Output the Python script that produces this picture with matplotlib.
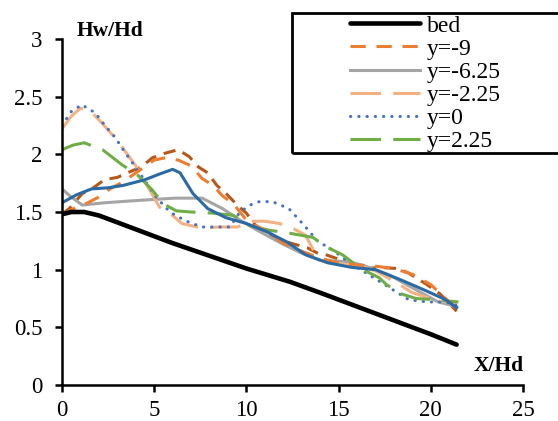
import numpy as np
import matplotlib
matplotlib.use('Agg')
from matplotlib import pyplot as plt
from matplotlib.patches import Rectangle

plt.rcParams['font.family'] = 'Liberation Serif'

# values (X/Hd, Hw/Hd)
bed_x = [0, 0.5, 1.2, 2, 3, 4, 5, 6, 8, 10, 12.36, 14, 16, 18, 20, 21.4]
bed_y = [1.48, 1.50, 1.50, 1.47, 1.41, 1.35, 1.29, 1.23, 1.12, 1.01, 0.895, 0.80, 0.68, 0.56, 0.44, 0.35]

ym9_x = [0, 0.5, 1.4, 2.0, 2.6, 3.3, 4.1, 5.0, 5.6, 6.3, 7.0, 7.6, 8.2, 8.7, 9.3, 10, 11, 12, 13, 14,
         15, 16, 17, 18, 19, 20, 21.4]
ym9_y = [1.47, 1.52, 1.58, 1.63, 1.70, 1.76, 1.85, 1.95, 1.97, 1.95, 1.90, 1.79, 1.73, 1.64, 1.57, 1.43,
         1.34, 1.23, 1.16, 1.10, 1.06, 1.04, 1.03, 1.01, 0.96, 0.87, 0.66]

ym625_x = [0, 0.5, 1.1, 2.3, 4.1, 6.1, 7.6, 8.7, 9.65, 10.5, 11.3, 12.0, 12.9, 14, 15.5, 16.3, 17.8,
           18.8, 19.6, 20.4, 21.4]
ym625_y = [1.70, 1.63, 1.56, 1.58, 1.60, 1.62, 1.62, 1.53, 1.43, 1.35, 1.28, 1.22, 1.15, 1.08, 1.07,
           1.04, 0.95, 0.86, 0.79, 0.72, 0.68]

ym225_x = [0, 0.5, 1.0, 1.5, 2.0, 3.0, 4.0, 5.3, 6.0, 6.5, 7.6, 8.5, 9.5, 10.4, 11.0, 11.8, 12.5, 13.2,
           13.7, 14.1, 15, 16, 17, 18, 19, 20, 21.4]
ym225_y = [2.22, 2.33, 2.40, 2.38, 2.30, 2.12, 1.90, 1.54, 1.47, 1.40, 1.36, 1.37, 1.37, 1.42, 1.42,
           1.40, 1.36, 1.30, 1.15, 1.08, 1.05, 1.04, 0.99, 0.90, 0.80, 0.75, 0.70]

y0_x = [0, 0.5, 1.07, 1.8, 2.33, 2.87, 3.4, 3.85, 4.2, 5.1, 5.85, 6.4, 6.9, 7.6, 8.6, 9.1, 9.65, 10.2,
        10.7, 11.4, 12.3, 13.1, 13.9, 14.5, 15.6, 16.5, 17.8, 18.8, 19.8, 20.8, 21.4]
y0_y = [2.25, 2.37, 2.43, 2.36, 2.25, 2.15, 2.02, 1.92, 1.84, 1.63, 1.50, 1.45, 1.41, 1.37, 1.37, 1.37,
        1.50, 1.56, 1.59, 1.59, 1.53, 1.39, 1.24, 1.19, 1.06, 0.97, 0.84, 0.74, 0.72, 0.72, 0.69]

y225_x = [0, 0.6, 1.2, 2.2, 3.25, 4.1, 4.9, 5.5, 6.2, 7, 8.2, 9.3, 10.2, 11.3, 12.2, 13.6, 14.3, 15.2,
          16.2, 17.2, 17.6, 18.4, 19.2, 20.2, 21.5]
y225_y = [2.04, 2.08, 2.10, 2.04, 1.91, 1.82, 1.69, 1.57, 1.51, 1.50, 1.49, 1.47, 1.38, 1.34, 1.32,
          1.28, 1.20, 1.13, 1.01, 0.93, 0.87, 0.79, 0.75, 0.74, 0.72]

# two extra series with no legend entry
blue_x = [0, 0.8, 1.6, 2.5, 3.3, 4.5, 5.3, 6.0, 6.4, 7.1, 7.9, 8.9, 10, 11.1, 12.2, 13.2, 14.4, 15.7,
          17, 18.4, 19.7, 20.8, 21.4]
blue_y = [1.58, 1.65, 1.70, 1.71, 1.73, 1.78, 1.83, 1.87, 1.84, 1.66, 1.53, 1.45, 1.40, 1.33, 1.24,
          1.13, 1.06, 1.02, 1.00, 0.91, 0.82, 0.74, 0.67]

brown_x = [0, 0.4, 1.1, 1.7, 2.3, 3.0, 3.7, 4.3, 4.9, 5.6, 6.3, 6.9, 7.4, 7.9, 8.4, 8.9, 9.5, 10.0,
           10.7, 11.3, 11.8, 12.4, 13.3, 13.9, 14.3, 15.2, 15.8, 16.6, 17.2, 18.2, 18.8, 19.7, 20.5, 21.4]
brown_y = [1.48, 1.53, 1.66, 1.71, 1.78, 1.80, 1.85, 1.89, 1.97, 2.01, 2.04, 1.98, 1.89, 1.84, 1.73,
           1.66, 1.56, 1.49, 1.34, 1.30, 1.26, 1.23, 1.19, 1.14, 1.13, 1.08, 1.04, 1.01, 1.02, 1.01,
           0.97, 0.88, 0.79, 0.64]

fig = plt.figure(figsize=(5.58, 4.21), dpi=100)
ax = fig.add_axes([62 / 558, 36 / 421, 461 / 558, 346 / 421])

lw = 2.2
ax.plot(brown_x, brown_y, color='#B8571A', lw=lw, ls=(0, (4, 2.6)), label='_nolegend_')
ax.plot(ym625_x, ym625_y, color='#A5A5A5', lw=lw, label='_g')
ax.plot(ym225_x, ym225_y, color='#F4B183', lw=lw, ls=(0, (10, 4)), label='_lo')
ax.plot(y0_x, y0_y, color='#4472C4', lw=lw, ls=(0, (0.1, 2.6)), dash_capstyle='round', label='_b')
ax.plot(y225_x, y225_y, color='#70AD47', lw=lw, ls=(0, (10, 4)), label='_gr')
ax.plot(ym9_x, ym9_y, color='#ED7D31', lw=lw, ls=(0, (5, 3.5)), label='_o')
ax.plot(blue_x, blue_y, color='#2B6AA4', lw=lw, label='_nolegend_')
ax.plot(bed_x, bed_y, color='black', lw=3.3, solid_capstyle='round', label='_bed')

# legend, same order as the reference
h = {l.get_label(): l for l in ax.get_lines()}
handles = [h['_bed'], h['_o'], h['_g'], h['_lo'], h['_b'], h['_gr']]
labels = ['bed', 'y=-9', 'y=-6.25', 'y=-2.25', 'y=0', 'y=2.25']
leg = ax.legend(handles, labels, loc='upper left', bbox_to_anchor=(350 / 558, 1 - 15 / 421),
                bbox_transform=fig.transFigure, frameon=False, fontsize=17,
                handlelength=2.95, handletextpad=0.3, labelspacing=0.07, borderpad=0,
                borderaxespad=0)
fig.patches.append(Rectangle((292 / 558, 1 - 153 / 421), 0.6, 140 / 421, transform=fig.transFigure,
                             fill=False, ec='black', lw=2))

ax.set_xlim(0, 25)
ax.set_ylim(0, 3)
ax.set_xticks([0, 5, 10, 15, 20, 25])
ax.set_yticks([0, 0.5, 1, 1.5, 2, 2.5, 3])
ax.set_yticklabels(['0', '0.5', '1', '1.5', '2', '2.5', '3'])
for s in ['top', 'right']:
    ax.spines[s].set_visible(False)
for s in ['left', 'bottom']:
    ax.spines[s].set_linewidth(1.8)
ax.tick_params(direction='out', length=5, width=1.8, labelsize=16.5, pad=9)
ax.tick_params(axis='x', pad=6)

fig.text(110 / 558, 1 - 31 / 421, 'Hw/Hd', fontsize=15.5, fontweight='bold', ha='center', va='center')
fig.text(499 / 558, 1 - 366 / 421, 'X/Hd', fontsize=15.5, fontweight='bold', ha='center', va='center')

fig.savefig('out.png', dpi=100)
